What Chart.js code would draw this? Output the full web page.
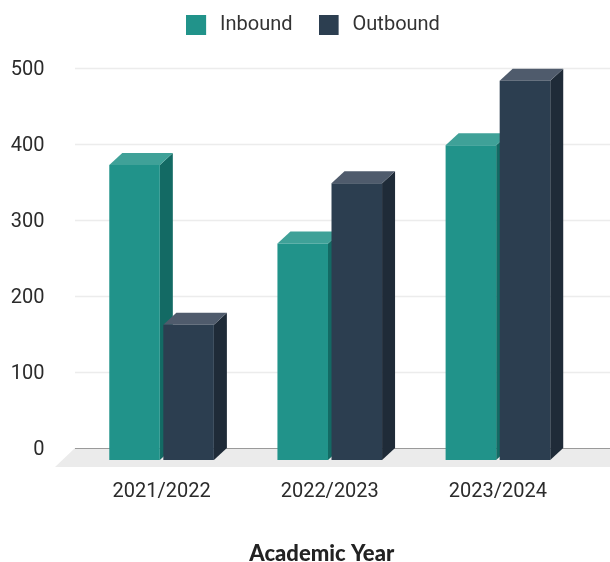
<!DOCTYPE html>
<html><head><meta charset="utf-8">
<style>html,body{margin:0;padding:0;background:#fff}#w{width:610px;height:562px;position:relative}</style>
<script src="https://cdn.jsdelivr.net/npm/chart.js@4"></script></head>
<body><div id="w"><canvas id="c"></canvas></div>
<script>
const categories=["2021/2022","2022/2023","2023/2024"];
const inbound=[388,285,414];
const outbound=[178,364,499];
const yTicks=[0,100,200,300,400,500];
const xTitle="Academic Year";
const teal={front:"#21938a",top:"#3fa198",side:"#136a64"};
const navy={front:"#2c3e50",top:"#4f5b6c",side:"#1f2b38"};
const DX=13,DY=12;
function swatch(color){
  const c=document.createElement("canvas");c.width=24;c.height=20;
  const g=c.getContext("2d");g.fillStyle=color;g.fillRect(0,0,20,20);return c;
}
const stage={
  id:"stage",
  beforeLayout(ch){
    const lg=ch.legend;
    if(lg&&!lg._patched){
      lg._patched=true;
      const f=lg.fit;lg.fit=function(){f.call(this);this.height+=24;};
      const d=lg.draw;lg.draw=function(){const g=this.ctx;g.save();g.translate(22,1);d.call(this);g.restore();};
    }
  },
  afterLayout(ch){
    const x=ch.scales.x;
    if(!x._patched){x._patched=true;const d=x.drawTitle;x.drawTitle=function(){const g=this.ctx;g.save();g.translate(-8,0);d.call(this);g.restore();};}
  },
  beforeDatasetsDraw(ch){
    const {ctx,scales:{y}}=ch;
    const y0=y.getPixelForValue(0);
    ctx.save();
    ctx.fillStyle="#ebebeb";
    ctx.beginPath();ctx.moveTo(75,y0);ctx.lineTo(610,y0);ctx.lineTo(610,y0+19);ctx.lineTo(55,y0+19);ctx.closePath();ctx.fill();
    yTicks.forEach(t=>{
      const p=Math.round(y.getPixelForValue(t))+.5;
      ctx.strokeStyle=t===0?"#9a9a9a":"#ececec";
      ctx.lineWidth=t===0?1:1.5;
      ctx.beginPath();ctx.moveTo(75,p);ctx.lineTo(610,p);ctx.stroke();
    });
    ctx.translate(0,DY);
    ch.data.datasets.forEach((ds,i)=>{
      const col=ds.faces;
      ch.getDatasetMeta(i).data.forEach(b=>{
        const {x,y,base,width}=b.getProps(["x","y","base","width"],true);
        const l=x-width/2,r=x+width/2;
        ctx.fillStyle=col.side;
        ctx.beginPath();ctx.moveTo(r,y);ctx.lineTo(r+DX,y-DY);ctx.lineTo(r+DX,base-DY);ctx.lineTo(r,base);ctx.closePath();ctx.fill();
        ctx.fillStyle=col.top;
        ctx.beginPath();ctx.moveTo(l,y);ctx.lineTo(l+DX,y-DY);ctx.lineTo(r+DX,y-DY);ctx.lineTo(r,y);ctx.closePath();ctx.fill();
      });
    });
    ctx.restore();
  },
  beforeDatasetDraw(ch){ch.ctx.save();ch.ctx.translate(0,DY);},
  afterDatasetDraw(ch){ch.ctx.restore();}
};
new Chart(document.getElementById("c"),{
  type:"bar",
  data:{labels:categories,datasets:[
    {label:"Inbound",data:inbound,backgroundColor:teal.front,faces:teal,clip:false,categoryPercentage:.643,barPercentage:.935},
    {label:"Outbound",data:outbound,backgroundColor:navy.front,faces:navy,clip:false,categoryPercentage:.643,barPercentage:.935}
  ]},
  plugins:[stage],
  options:{
    responsive:true,maintainAspectRatio:false,animation:false,
    layout:{padding:{left:0,right:28,top:-12,bottom:0}},
    plugins:{
      tooltip:{enabled:false},
      legend:{position:"top",labels:{boxWidth:20,boxHeight:20,padding:26,usePointStyle:true,pointStyleWidth:24,color:"#333",font:{family:"Roboto",size:20},
        generateLabels(ch){
          return Chart.defaults.plugins.legend.labels.generateLabels(ch).map((it,i)=>({...it,pointStyle:swatch(ch.data.datasets[i].faces.front)}));
        }}}
    },
    scales:{
      y:{min:0,max:500,grid:{display:false},border:{display:false},
         afterBuildTicks(s){s.ticks=yTicks.map(v=>({value:v}));},
         afterFit(s){s.width=77.5;},
         ticks:{padding:25,labelOffset:2,color:"#2b2b2b",font:{family:"Roboto",size:20}}},
      x:{grid:{display:false},border:{display:false},
         afterFit(s){s.height=114;},
         ticks:{padding:24,maxRotation:0,color:"#2b2b2b",font:{family:"Roboto",size:20}},
         title:{display:true,text:xTitle,color:"#222",padding:{top:0,bottom:-5},font:{family:"Lato",size:22,weight:"900"}}}
    }
  }
});
</script></body></html>
